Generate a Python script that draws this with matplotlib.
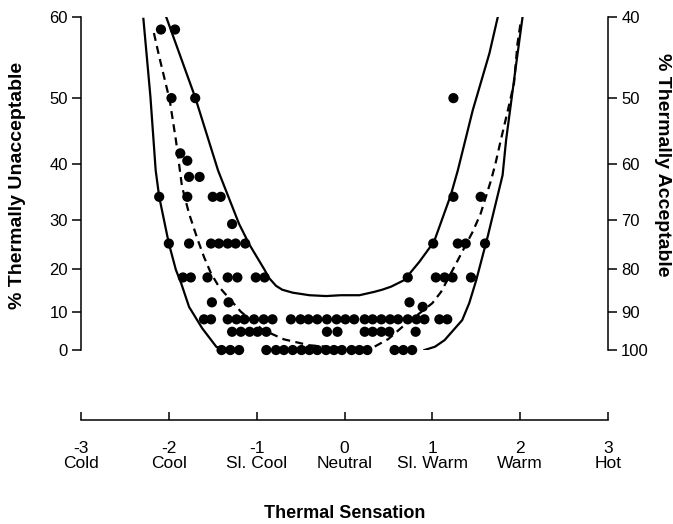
import numpy as np
import matplotlib
matplotlib.use("Agg")
import matplotlib.pyplot as plt
from matplotlib.ticker import NullLocator, FixedLocator, FixedFormatter

plt.rcParams['font.family'] = ['Liberation Sans', 'DejaVu Sans']

# observed votes: % unacceptable level and the thermal sensation of each dot
row_levels = [58.6, 50.0, 41.8, 40.6, 37.9, 34.4, 29.3, 25.4, 18.1, 12.3, 11.2, 8.1, 4.9, 0.0]
row_sens = [
    [-2.09, -1.93],
    [-1.97, -1.70, 1.24],
    [-1.87],
    [-1.79],
    [-1.77, -1.65],
    [-2.11, -1.79, -1.50, -1.41, 1.24, 1.55],
    [-1.28],
    [-2.00, -1.77, -1.52, -1.43, -1.33, -1.24, -1.13, 1.01, 1.29, 1.38, 1.60],
    [-1.84, -1.75, -1.56, -1.33, -1.22, -1.01, -0.91, 0.72, 1.04, 1.14, 1.23, 1.44],
    [-1.51, -1.32, 0.74],
    [0.89],
    [-1.60, -1.52, -1.33, -1.23, -1.14, -1.03, -0.92, -0.82, -0.61, -0.50, -0.41,
     -0.31, -0.20, -0.09, 0.01, 0.11, 0.23, 0.32, 0.42, 0.52, 0.61, 0.72, 0.82,
     0.91, 1.08, 1.17],
    [-1.28, -1.18, -1.08, -0.99, -0.89, -0.20, -0.08, 0.23, 0.32, 0.42, 0.51, 0.81],
    [-1.40, -1.30, -1.20, -0.89, -0.78, -0.69, -0.59, -0.49, -0.40, -0.31, -0.21,
     -0.12, -0.03, 0.08, 0.17, 0.26, 0.57, 0.67, 0.77],
]

# upper and lower solid limits, dashed fitted curve
upper_x = [-2.03, -1.70, -1.44, -1.20, -1.08, -0.91, -0.86, -0.78, -0.71, -0.59, -0.40,
           -0.21, -0.04, 0.17, 0.34, 0.43, 0.53, 0.68, 0.85, 1.02, 1.21, 1.29, 1.46,
           1.65, 1.75]
upper_y = [60.0, 50.1, 39.0, 29.3, 25.1, 19.8, 18.0, 16.2, 15.3, 14.6, 14.0,
           13.8, 14.0, 14.0, 14.8, 15.3, 16.0, 17.5, 21.5, 25.8, 34.7, 39.0, 48.3,
           55.8, 60.2]

lower_left_x = [-2.29, -2.21, -2.15, -2.11, -2.00, -1.92, -1.86, -1.77, -1.62, -1.46, -1.37]
lower_left_y = [59.8, 50.2, 39.0, 34.4, 25.4, 19.8, 16.8, 11.2, 5.8, 0.9, 0.0]
lower_right_x = [0.91, 1.03, 1.14, 1.34, 1.42, 1.50, 1.63, 1.80, 1.84, 1.95, 2.03]
lower_right_y = [0.0, 0.9, 2.7, 7.9, 12.1, 17.5, 26.8, 38.2, 43.9, 54.1, 60.2]

fit_x = [-2.17, -2.11, -1.99, -1.92, -1.85, -1.77, -1.67, -1.60, -1.52, -1.43, -1.18,
         -0.93, -0.69, -0.40, -0.10, 0.20, 0.34, 0.50, 0.66, 1.00, 1.10, 1.29, 1.46,
         1.55, 1.67, 1.72, 1.78, 1.86, 1.93, 1.97, 2.01]
fit_y = [58.2, 55.4, 49.7, 43.9, 36.2, 31.3, 26.1, 22.6, 19.0, 16.0, 10.0,
         5.4, 2.9, 1.3, 0.7, 0.6, 0.9, 3.0, 6.2, 12.1, 14.8, 21.9, 27.8,
         31.3, 37.4, 40.2, 43.9, 48.3, 52.0, 57.0, 59.7]

sens_ticks = [-3, -2, -1, 0, 1, 2, 3]
sens_names = ["Cold", "Cool", "Sl. Cool", "Neutral", "Sl. Warm", "Warm", "Hot"]
unacc_ticks = [0, 10, 20, 30, 40, 50, 60]
acc_ticks = [40, 50, 60, 70, 80, 90, 100]


def fwd(v):
    v = np.asarray(v, dtype=float)
    return -np.log(np.clip(1 - v / 100.0, 1e-6, None))


def inv(t):
    t = np.asarray(t, dtype=float)
    return 100.0 * (1 - np.exp(-t))


fig = plt.figure(figsize=(6.73, 5.24), dpi=100)
ax = fig.add_axes([0.1204, 0.332, 0.783, 0.6355])
ax.set_yscale('function', functions=(fwd, inv))
ax.set_xlim(-3, 3)
ax.set_ylim(0, 60)

xs = [x for row in row_sens for x in row]
ys = [lv for lv, row in zip(row_levels, row_sens) for _ in row]
ax.scatter(xs, ys, s=54, color='black', edgecolors='none', clip_on=False, zorder=3)

line_kw = dict(color='black', lw=1.6, solid_joinstyle='round', dash_joinstyle='round')
ax.plot(upper_x, upper_y, **line_kw)
ax.plot(lower_left_x, lower_left_y, **line_kw)
ax.plot(lower_right_x, lower_right_y, **line_kw)
ax.plot(fit_x, fit_y, linestyle=(0, (3.6, 2.4)), **line_kw)

for s in ['top', 'bottom', 'right']:
    ax.spines[s].set_visible(False)
ax.spines['left'].set_linewidth(1.1)
ax.spines['left'].set_bounds(0, 60)
ax.set_xticks([])
ax.yaxis.set_major_locator(FixedLocator(unacc_ticks))
ax.yaxis.set_major_formatter(FixedFormatter([str(t) for t in unacc_ticks]))
ax.yaxis.set_minor_locator(NullLocator())
ax.tick_params(axis='y', direction='out', length=6.5, width=1.1, labelsize=12, pad=3)

ax2 = ax.twinx()
ax2.set_yscale('log')
ax2.set_ylim(100, 40)
for s in ['top', 'bottom', 'left']:
    ax2.spines[s].set_visible(False)
ax2.spines['right'].set_linewidth(1.1)
ax2.yaxis.set_major_locator(FixedLocator(acc_ticks))
ax2.yaxis.set_major_formatter(FixedFormatter([str(t) for t in acc_ticks]))
ax2.yaxis.set_minor_locator(NullLocator())
ax2.tick_params(axis='y', direction='out', length=6.5, width=1.1, labelsize=12, pad=3)

# separate thermal sensation axis underneath
axb = fig.add_axes([0.1204, 0.1985, 0.783, 0.001])
axb.set_xlim(-3, 3)
axb.set_yticks([])
for s in ['top', 'left', 'right']:
    axb.spines[s].set_visible(False)
axb.spines['bottom'].set_linewidth(1.1)
axb.set_xticks(sens_ticks)
axb.set_xticklabels([f"{t}\n{n}" for t, n in zip(sens_ticks, sens_names)], linespacing=1.05)
axb.tick_params(axis='x', direction='in', length=6, width=1.1, labelsize=12.5, pad=15)
axb.set_xlabel("Thermal Sensation", fontsize=13, fontweight='bold', labelpad=24)

fig.text(18 / 673, 1 - 185 / 524, "% Thermally Unacceptable", rotation=90,
         ha='center', va='center', fontsize=14, fontweight='bold')
fig.text(663 / 673, 1 - 165 / 524, "% Thermally Acceptable", rotation=270,
         ha='center', va='center', fontsize=14, fontweight='bold')

fig.savefig("out.png", dpi=100)
